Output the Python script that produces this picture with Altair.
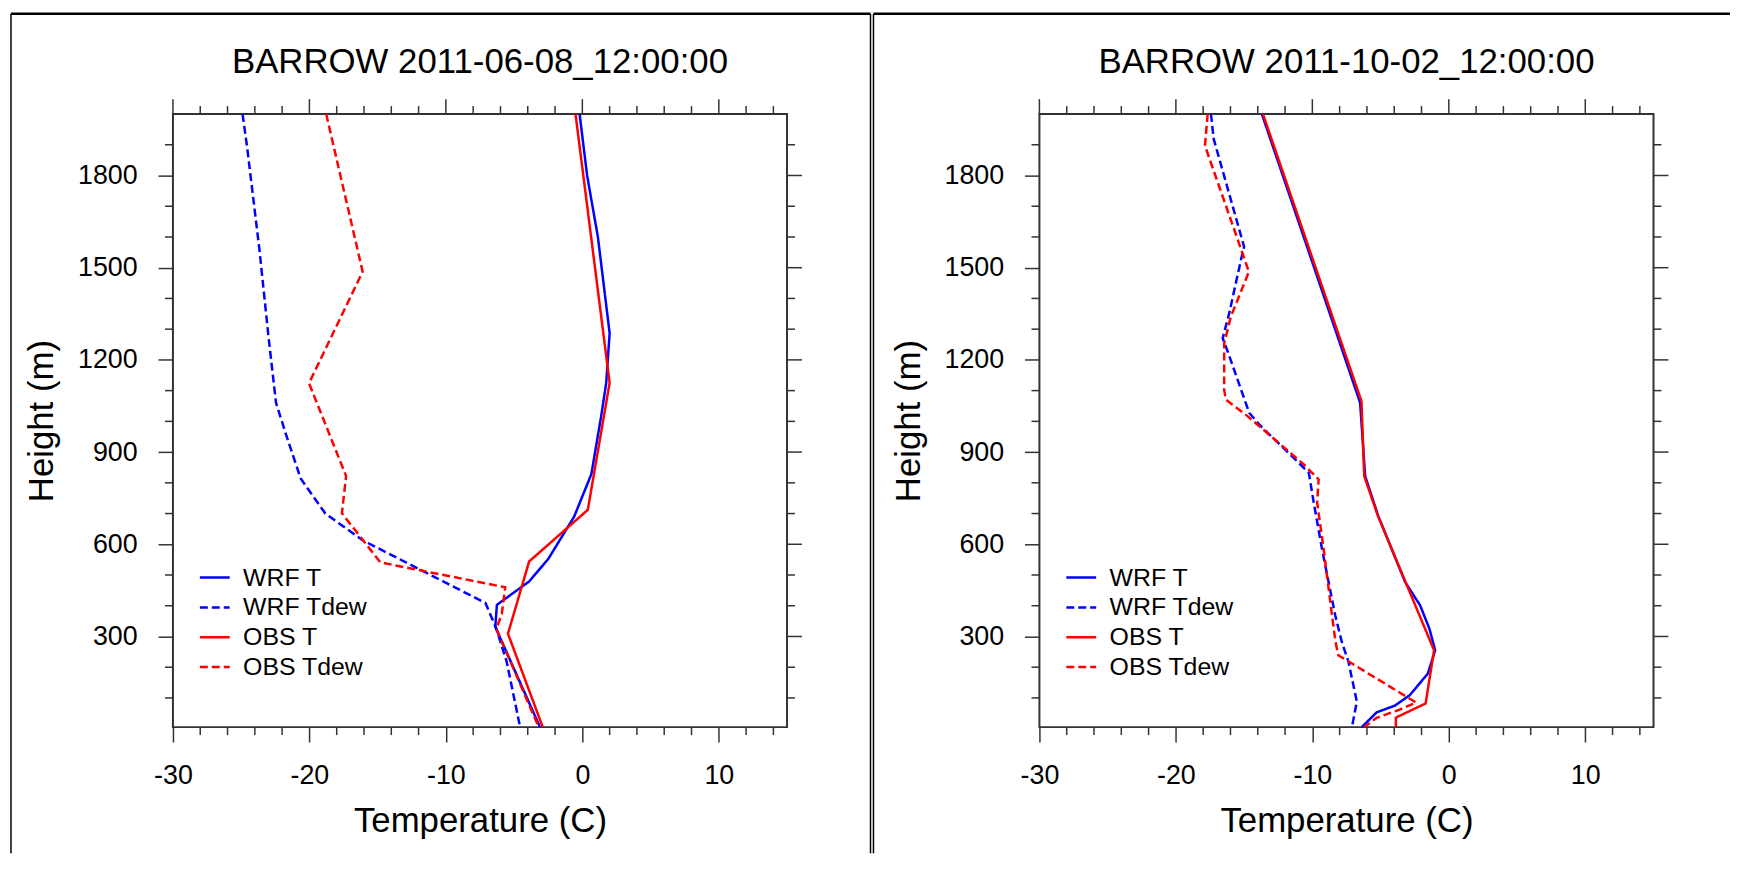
import altair as alt
import pandas as pd

FONT = "Liberation Sans"
SERIES = ["WRF T", "WRF Tdew", "OBS T", "OBS Tdew"]
COLORS = ["#0000ff", "#0000ff", "#ff0000", "#ff0000"]
DASHES = [[1, 0], [8, 4], [1, 0], [8, 4]]

X_MAJOR = [-30, -20, -10, 0, 10]
X_MINOR = [-28, -26, -24, -22, -18, -16, -14, -12, -8, -6, -4, -2, 2, 4, 6, 8, 12, 14]
Y_MAJOR = [300, 600, 900, 1200, 1500, 1800]
Y_MINOR = [100, 200, 400, 500, 700, 800, 1000, 1100, 1300, 1400, 1600, 1700, 1900]
X_DOMAIN = [-30, 15]
Y_DOMAIN = [5, 2000]

# ---- Panel 1: BARROW 2011-06-08_12:00:00
p1_title = "BARROW 2011-06-08_12:00:00"
p1_wrf_t_h = [2000, 1800, 1600, 1287, 1125, 1017, 828, 690, 552, 479, 403, 331, 5]
p1_wrf_t = [-0.2, 0.35, 1.14, 2.0, 1.75, 1.38, 0.66, -0.6, -2.5, -3.9, -6.26, -6.38, -3.1]
p1_wrf_td_h = [2000, 1894, 1558, 1276, 1061, 955, 814, 700, 613, 409, 325, 217, 5]
p1_wrf_td = [-24.9, -24.57, -23.66, -23.0, -22.45, -21.7, -20.64, -18.83, -16.1, -7.1, -6.3, -5.54, -4.56]
p1_obs_t_h = [2000, 1125, 712, 544, 309, 5]
p1_obs_t = [-0.5, 2.0, 0.4, -3.9, -5.45, -2.9]
p1_obs_td_h = [2000, 1487, 1124, 822, 701, 541, 460, 374, 325, 5]
p1_obs_td = [-18.77, -16.1, -20.03, -17.31, -17.62, -14.8, -5.65, -5.9, -6.3, -3.2]

# ---- Panel 2: BARROW 2011-10-02_12:00:00
p2_title = "BARROW 2011-10-02_12:00:00"
p2_wrf_t_h = [2000, 1082, 1060, 822, 693, 477, 401, 325, 255, 179, 109, 75, 53, 5]
p2_wrf_t = [-13.7, -6.66, -6.5, -6.13, -5.18, -3.2, -2.1, -1.42, -1.0, -1.54, -2.86, -3.95, -5.29, -6.38]
p2_wrf_td_h = [2000, 1919, 1568, 1524, 1352, 1271, 1228, 1028, 990, 849, 833, 736, 584, 368, 282, 217, 88, 5]
p2_wrf_td = [-17.43, -17.23, -15.0, -15.24, -16.09, -16.57, -16.21, -14.63, -13.9, -10.63, -10.26, -9.9,
             -9.29, -8.32, -7.84, -7.35, -6.74, -7.1]
p2_obs_t_h = [2000, 1085, 1065, 822, 693, 255, 82, 36, 5]
p2_obs_t = [-13.62, -6.55, -6.4, -6.2, -5.2, -1.08, -1.7, -3.88, -3.88]
p2_obs_td_h = [2000, 1897, 1487, 1341, 1254, 1103, 1071, 1017, 860, 811, 736, 584, 368, 282, 239, 85, 62, 35, 5]
p2_obs_td = [-17.67, -17.87, -14.65, -15.97, -16.46, -16.46, -16.34, -14.75, -10.63, -9.54, -9.65, -9.17,
             -8.56, -8.3, -8.1, -2.4, -3.6, -5.3, -6.2]

W, H = 618, 617
AX = "#333333"
X_TITLE = "Temperature (C)"
Y_TITLE = "Height (m)"


def build_df(pairs):
    rows = []
    for name, (hs, ts) in zip(SERIES, pairs):
        for i, (h, t) in enumerate(zip(hs, ts)):
            rows.append({"series": name, "h": h, "t": t, "i": i})
    return pd.DataFrame(rows)


def make_axis(values, label_pad, title_pad):
    return alt.Axis(values=values, tickSize=15, tickWidth=1.5, tickColor=AX, domain=False,
                    grid=False, labelFontSize=27, labelFont=FONT, labelColor="black",
                    labelPadding=label_pad, labelFlush=False, labelOverlap=False,
                    labelExpr="datum.value + ''", titleFontSize=35, titleFont=FONT,
                    titleFontWeight="normal", titleColor="black", titlePadding=title_pad)


def panel(title, pairs, frame_left, frame_right, divider):
    xs = alt.Scale(domain=X_DOMAIN, nice=False, zero=False)
    ys = alt.Scale(domain=Y_DOMAIN, nice=False, zero=False)
    xax = make_axis(X_MAJOR, 21, 15)
    yax = make_axis(Y_MAJOR, 21, 18)
    leg = alt.Legend(orient="none", legendX=25.6, legendY=450, title=None, symbolType="stroke",
                     symbolSize=900, symbolStrokeWidth=2.5, labelFontSize=25, labelFont=FONT,
                     labelColor="black", labelOffset=12, rowPadding=0, padding=0)
    df = build_df(pairs)
    lines = alt.Chart(df).mark_line(strokeWidth=2.5).encode(
        x=alt.X("t:Q", scale=xs, title=X_TITLE, axis=xax),
        y=alt.Y("h:Q", scale=ys, title=Y_TITLE, axis=yax),
        color=alt.Color("series:N", scale=alt.Scale(domain=SERIES, range=COLORS), legend=leg),
        strokeDash=alt.StrokeDash("series:N", scale=alt.Scale(domain=SERIES, range=DASHES), legend=leg),
        order="i:Q",
    )

    def xticks(vals, y0, y1):
        return alt.Chart(pd.DataFrame({"t": vals})).mark_rule(color=AX, strokeWidth=1.5).encode(
            x=alt.X("t:Q", scale=xs, title=X_TITLE, axis=xax), y=alt.value(y0), y2=alt.value(y1))

    def yticks(vals, x0, x1):
        return alt.Chart(pd.DataFrame({"h": vals})).mark_rule(color=AX, strokeWidth=1.5).encode(
            y=alt.Y("h:Q", scale=ys, title=Y_TITLE, axis=yax), x=alt.value(x0), x2=alt.value(x1))

    ticks = [
        xticks(X_MINOR, H, H + 8),
        xticks(X_MAJOR, 0, -15),
        xticks(X_MINOR, 0, -8),
        yticks(Y_MINOR, 0, -8),
        yticks(Y_MAJOR, W, W + 15),
        yticks(Y_MINOR, W, W + 8),
    ]

    ttl = alt.Chart(pd.DataFrame({"title": [title]})).mark_text(
        fontSize=35, font=FONT, align="center", baseline="alphabetic", color="black"
    ).encode(text="title:N", x=alt.value(W / 2), y=alt.value(-41.5))

    one = pd.DataFrame({"k": [0]})
    frames = [
        alt.Chart(one).mark_rule(color="black", strokeWidth=2.5).encode(
            x=alt.value(frame_left), x2=alt.value(frame_right), y=alt.value(-101)),
        alt.Chart(one).mark_rule(color="black", strokeWidth=1.5).encode(
            x=alt.value(frame_left), y=alt.value(-101), y2=alt.value(744)),
    ]
    if divider is not None:
        frames.append(alt.Chart(one).mark_rule(color="black", strokeWidth=1.5).encode(
            x=alt.value(divider), y=alt.value(-101), y2=alt.value(744)))

    return alt.layer(lines, *ticks, ttl, *frames).properties(width=W, height=H)


left = panel(p1_title, [(p1_wrf_t_h, p1_wrf_t), (p1_wrf_td_h, p1_wrf_td),
                        (p1_obs_t_h, p1_obs_t), (p1_obs_td_h, p1_obs_td)], -163, 702, 702)
right = panel(p2_title, [(p2_wrf_t_h, p2_wrf_t), (p2_wrf_td_h, p2_wrf_td),
                         (p2_obs_t_h, p2_obs_t), (p2_obs_td_h, p2_obs_td)], -167, 695, None)

chart = alt.hconcat(left, right, spacing=-3).resolve_legend(
    color="independent", strokeDash="independent"
).properties(padding=0, background="white").configure_view(stroke=AX, strokeWidth=2)

chart.save("out.html", embed_options={"renderer": "svg", "actions": False})
